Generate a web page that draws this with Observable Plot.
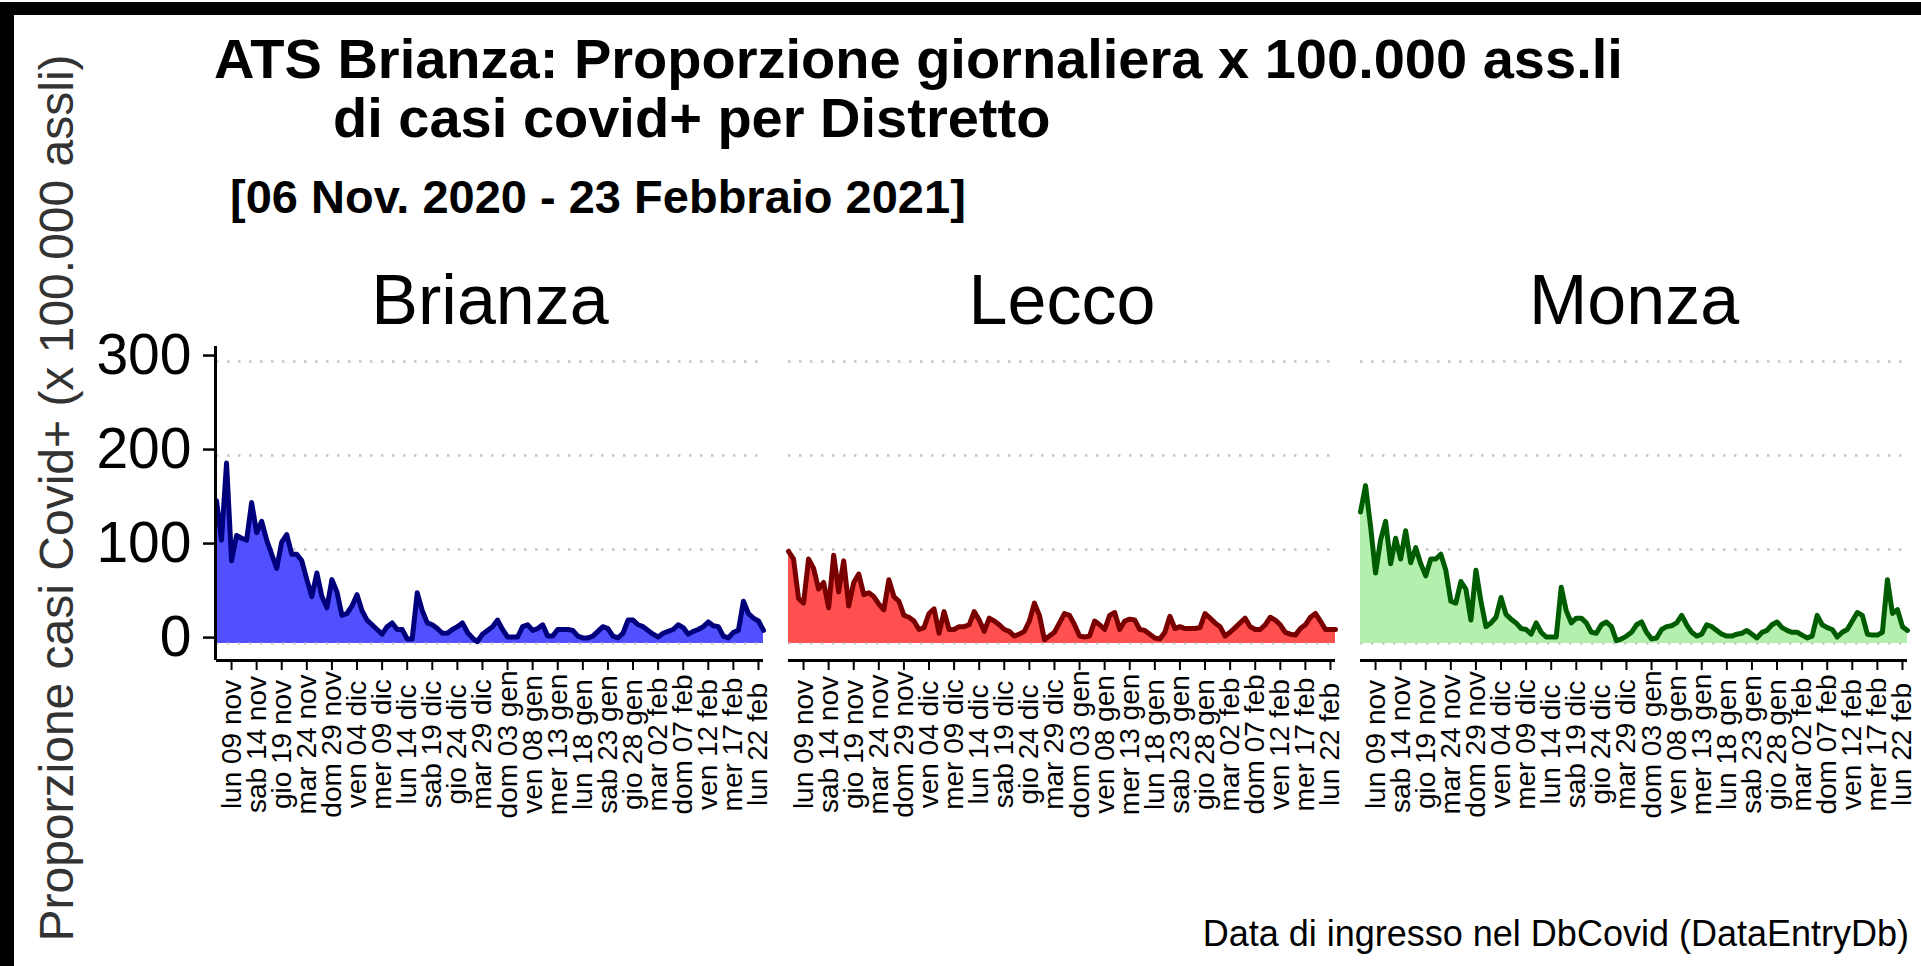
<!DOCTYPE html>
<html>
<head>
<meta charset="utf-8">
<script src="https://cdn.jsdelivr.net/npm/d3@7"></script>
<script src="https://cdn.jsdelivr.net/npm/@observablehq/plot@0.6"></script>
<style>
  html, body { margin: 0; padding: 0; background: #fff; overflow: hidden; }
  #wrap { position: relative; width: 1921px; height: 966px; background: #fff; font-family: "Liberation Sans", Arial, sans-serif; }
  #chart { position: absolute; left: 0; top: 0; }
  .t { position: absolute; white-space: nowrap; line-height: 1; color: #000; }
  .bar { position: absolute; background: #000; }
</style>
</head>
<body>
<div id="wrap">
  <div id="chart"></div>
  <div class="t" style="left:214px; top:31px; font-size:56px; font-weight:bold;">ATS Brianza: Proporzione giornaliera x 100.000 ass.li</div>
  <div class="t" style="left:333px; top:90px; font-size:56px; font-weight:bold;">di casi covid+ per Distretto</div>
  <div class="t" style="left:230px; top:173px; font-size:47px; font-weight:bold;">[06 Nov. 2020 - 23 Febbraio 2021]</div>
  <div class="t" style="right:12px; top:916px; font-size:36px;">Data di ingresso nel DbCovid (DataEntryDb)</div>
  <div class="bar" style="left:0; top:2px; width:1921px; height:13px;"></div>
  <div class="bar" style="left:0; top:2px; width:14px; height:964px;"></div>
</div>
<script>
// ---- data ----
const districts = ["Brianza", "Lecco", "Monza"];
const startDate = "2020-11-06";
const endDate = "2021-02-23";

const brianza = [152,110,192,88,115,112,110,150,118,130,110,95,80,108,116,95,95,88,68,50,75,50,38,68,55,30,32,40,52,35,25,20,15,10,18,22,15,
  15,5,5,54,35,22,20,16,11,11,15,18,22,12,6,2,10,14,18,25,15,7,7,7,18,20,14,16,20,8,8,15,15,15,14,8,6,
  6,8,13,18,16,8,6,11,25,25,20,18,14,10,7,11,13,15,20,17,10,13,15,18,23,19,18,8,6,12,14,45,32,27,24,14];
const lecco = [98,90,48,43,90,80,58,65,38,94,55,88,40,65,74,52,54,50,42,36,68,50,45,30,28,24,15,17,32,37,11,34,15,15,18,18,20,
  34,25,13,27,24,20,15,13,8,10,13,24,43,30,4,8,12,22,32,30,20,8,7,8,24,20,15,30,33,15,24,26,25,15,14,10,6,
  5,12,29,16,18,16,16,16,17,32,27,22,18,8,12,17,22,27,18,15,15,20,28,25,20,12,10,9,16,20,28,32,24,15,15,15];
const monza = [140,168,125,75,110,130,85,112,90,120,86,102,85,72,90,90,95,78,45,43,66,58,25,78,45,18,22,28,49,31,26,22,16,15,10,22,12,
  7,7,7,60,35,22,27,27,22,12,11,20,23,18,3,5,8,12,20,23,12,5,6,15,18,19,22,30,20,12,8,10,20,18,14,10,8,
  8,10,11,14,10,6,12,14,20,23,17,14,12,12,9,6,8,30,20,17,15,7,12,15,24,33,30,10,9,9,12,68,32,36,18,14];

const tickDates = ["2020-11-09","2020-11-14","2020-11-19","2020-11-24","2020-11-29","2020-12-04","2020-12-09","2020-12-14",
  "2020-12-19","2020-12-24","2020-12-29","2021-01-03","2021-01-08","2021-01-13","2021-01-18","2021-01-23","2021-01-28",
  "2021-02-02","2021-02-07","2021-02-12","2021-02-17","2021-02-22"];
const tickLabels = ["lun 09 nov","sab 14 nov","gio 19 nov","mar 24 nov","dom 29 nov","ven 04 dic","mer 09 dic","lun 14 dic",
  "sab 19 dic","gio 24 dic","mar 29 dic","dom 03 gen","ven 08 gen","mer 13 gen","lun 18 gen","sab 23 gen","gio 28 gen",
  "mar 02 feb","dom 07 feb","ven 12 feb","mer 17 feb","lun 22 feb"];
const yTicks = [0, 100, 200, 300];

const fills = ["#5050ff", "#ff5050", "#b3f0ad"];
const strokes = ["#00007d", "#7a0000", "#005c00"];

// ---- build table ----
const parse = d3.utcParse("%Y-%m-%d");
const dates = d3.utcDay.range(parse(startDate), d3.utcDay.offset(parse(endDate), 1));
const seriesList = [brianza, lecco, monza];
const rows = [];
districts.forEach((name, k) => seriesList[k].forEach((v, i) => rows.push({district: name, date: dates[i], value: v})));
const ticks = tickDates.map(parse);
const labelOf = new Map(ticks.map((d, i) => [+d, tickLabels[i]]));

const marks = [
  Plot.ruleY([100, 200, 300], {stroke: "#c4c4c4", strokeWidth: 2.5, strokeDasharray: "2.5,8.5"})
];
districts.forEach((name, k) => {
  const data = rows.filter(d => d.district === name);
  marks.push(Plot.areaY(data, {x: "date", y: "value", fx: "district", fill: fills[k]}));
  marks.push(Plot.ruleY([0], {stroke: "#c4c4c4", strokeWidth: 2, strokeDasharray: "2.5,8.5", fx: () => name}));
  marks.push(Plot.lineY(data, {x: "date", y: "value", fx: "district", stroke: strokes[k], strokeWidth: 5, strokeLinejoin: "round"}));
});
marks.push(
  Plot.ruleY([-18], {stroke: "#000", strokeWidth: 3}),
  Plot.ruleX([{district: "Brianza", date: dates[0]}], {x: "date", fx: "district", y1: -18, y2: 316, stroke: "#000", strokeWidth: 3, dx: -1}),
  Plot.axisY({ticks: yTicks, tickSize: 13, tickPadding: 12, fontSize: 57, strokeWidth: 2.5, label: null, dy: -6, fill: "#000"}),
  Plot.axisX({ticks: ticks, tickFormat: d => labelOf.get(+d), tickRotate: -90, textAnchor: "middle", lineAnchor: "middle",
    tickSize: 10, tickPadding: 74, fontSize: 28, strokeWidth: 2, label: null, fill: "#000"}),
  Plot.axisFx({anchor: "top", tickSize: 0, tickPadding: 23, fontSize: 70, label: null, fill: "#000"}),
  Plot.text([{district: "Brianza", t: "Proporzione casi Covid+ (x 100.000 assli)"}], {
    text: "t", fx: "district", frameAnchor: "left", rotate: -90, dx: -178, dy: -5.5, fontSize: 48,
    lineAnchor: "top", textAnchor: "middle", fill: "#333"})
);

const chart = Plot.plot({
  width: 1921,
  height: 966,
  marginLeft: 215,
  marginRight: 12,
  marginTop: 346,
  marginBottom: 306,
  style: {fontFamily: "'Liberation Sans', Arial, sans-serif", background: "transparent", color: "#000"},
  fx: {domain: districts, paddingInner: 0.0436, paddingOuter: 0},
  x: {type: "utc", domain: [dates[0], dates[dates.length - 1]]},
  y: {domain: [-18, 316]},
  marks
});
document.getElementById("chart").appendChild(chart);
</script>
</body>
</html>
